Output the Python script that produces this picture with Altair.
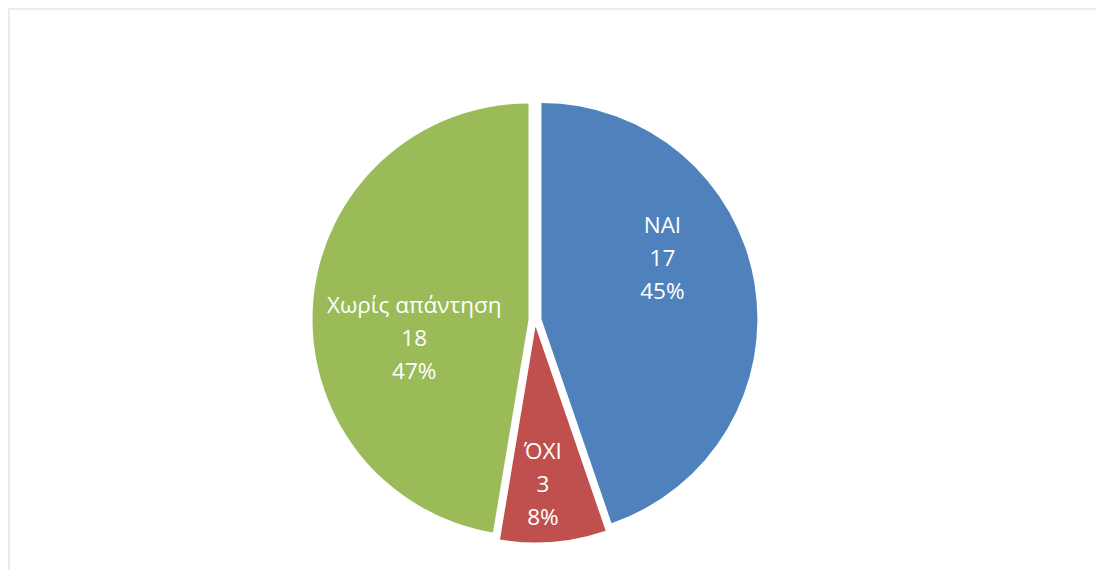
import altair as alt
import pandas as pd

# ---- data ----
categories = ["ΝΑΙ", "ΌΧΙ", "Χωρίς απάντηση"]
counts = [17, 3, 18]
colors = ["#4F81BD", "#C0504D", "#9BBB59"]

# ---- layout ----
W, H = 1088, 562          # plot area (page has 8px margin)
CX, CY = 527, 312         # pie centre inside the plot area
R = 216                   # pie radius
EXPLODE = 6.5             # outward shift of each slice
LINE_H = 33               # label line height
# label placement inside each slice (fraction along slice angle, fraction of radius)
label_along = [0.40, 0.57, 0.42]
label_radius = [0.654, 0.765, 0.566]

df = pd.DataFrame({
    "category": categories,
    "count": counts,
    "order": list(range(len(categories))),
    "along": label_along,
    "lrad": label_radius,
})

base = (
    alt.Chart(df)
    .transform_window(cum="sum(count)", sort=[alt.SortField("order")])
    .transform_joinaggregate(total="sum(count)")
    .transform_calculate(
        a0="2*PI*(datum.cum - datum.count)/datum.total",
        a1="2*PI*datum.cum/datum.total",
        mid="(datum.a0 + datum.a1)/2",
        ex=f"{CX} + {EXPLODE}*sin(datum.mid)",
        ey=f"{CY} - {EXPLODE}*cos(datum.mid)",
        la="datum.a0 + datum.along*(datum.a1 - datum.a0)",
        tx=f"{CX} + {R}*datum.lrad*sin(datum.la)",
        ty=f"{CY} - {R}*datum.lrad*cos(datum.la) - {LINE_H}",
        label="datum.category + '\\n' + datum.count + '\\n' + format(datum.count/datum.total, '.0%')",
    )
)

arcs = base.mark_arc(radius=R).encode(
    theta=alt.Theta("a0:Q", scale=None),
    theta2="a1:Q",
    x=alt.X("ex:Q", scale=None, axis=None),
    y=alt.Y("ey:Q", scale=None, axis=None),
    color=alt.Color("category:N", scale=alt.Scale(domain=categories, range=colors), legend=None),
)

labels = base.mark_text(
    font="Open Sans", fontSize=22.5, color="white", lineBreak="\n", lineHeight=LINE_H,
    align="center", baseline="middle",
).encode(
    x=alt.X("tx:Q", scale=None, axis=None),
    y=alt.Y("ty:Q", scale=None, axis=None),
    text="label:N",
)

border_data = alt.Data(values=[{"k": 1}])
border_top = alt.Chart(border_data).mark_rule(color="#EEECE1", strokeWidth=2).encode(
    x=alt.value(0), x2=alt.value(W), y=alt.value(1)
)
border_left = alt.Chart(border_data).mark_rule(color="#EEECE1", strokeWidth=2).encode(
    x=alt.value(1), y=alt.value(0), y2=alt.value(H)
)

chart = (
    alt.layer(border_top, border_left, arcs, labels)
    .properties(width=W, height=H, autosize=alt.AutoSizeParams(type="none"), padding=0,
                background="white")
    .configure_view(stroke=None)
)

chart.save("out.html", embed_options={"renderer": "svg", "actions": False})
